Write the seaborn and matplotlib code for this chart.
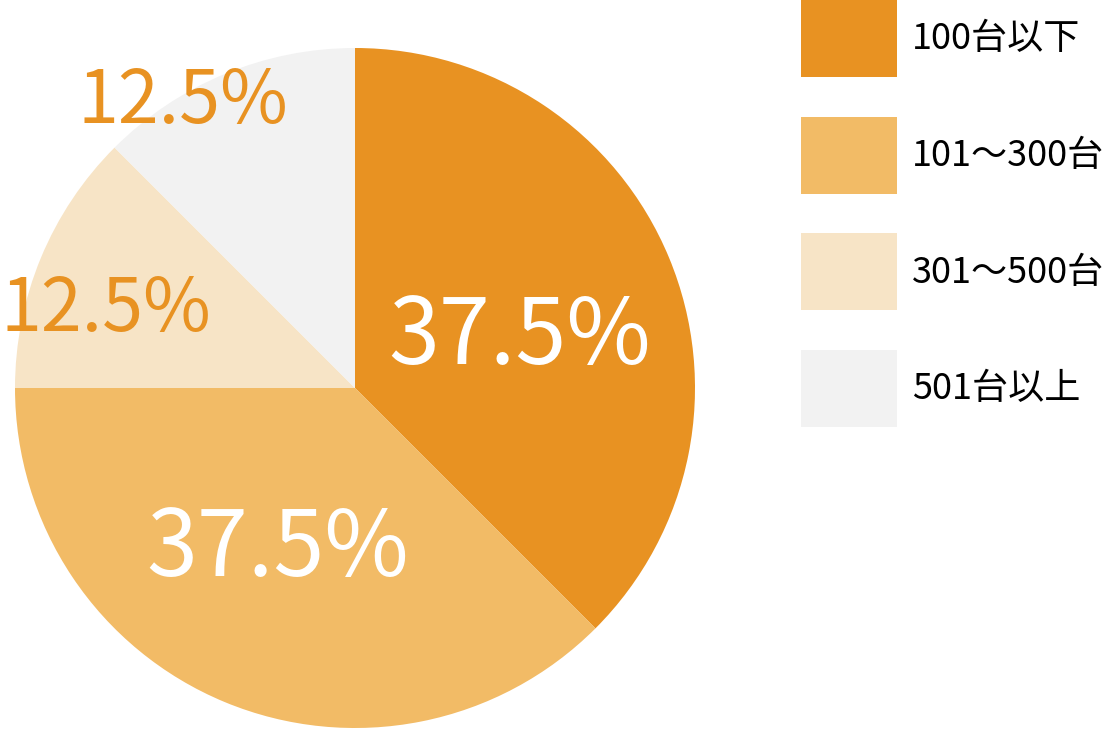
import matplotlib
matplotlib.use("Agg")
import matplotlib.pyplot as plt
import seaborn as sns
import numpy as np

categories = ["100台以下", "101～300台", "301～500台", "501台以上"]
values = [37.5, 37.5, 12.5, 12.5]
colors = ["#E89222", "#F2BB66", "#F7E4C6", "#F2F2F2"]
label_colors = ["white", "white", "#E89222", "#E89222"]

sns.set_theme(style="white")
plt.rcParams["font.family"] = ["Noto Sans CJK JP", "DejaVu Sans"]

W, H = 1105, 730
fig = plt.figure(figsize=(W / 100, H / 100), dpi=100)
fig.patch.set_facecolor("white")

cx, cy, r = 355, 388, 340
ax = fig.add_axes([(cx - r) / W, (H - cy - r) / H, 2 * r / W, 2 * r / H])
ax.set_facecolor("none")

wedges, texts, autotexts = ax.pie(
    values, colors=colors, startangle=90, counterclock=False,
    autopct=lambda p: f"{p:.1f}%", pctdistance=0.5,
    wedgeprops=dict(linewidth=0), radius=1.0,
)
ax.set_xlim(-1, 1)
ax.set_ylim(-1, 1)
ax.set_aspect("equal")

# label placement (polar: radius, angle in degrees) and sizes
label_pos = [(0.515, 20.3), (0.50, -116.9), (0.775, 160.8), (1.003, 120.4)]
label_sizes = [66, 66, 53, 53]
for t, (rr, ang), c, s in zip(autotexts, label_pos, label_colors, label_sizes):
    a = np.deg2rad(ang)
    t.set_position((rr * np.cos(a), rr * np.sin(a)))
    t.set_color(c)
    t.set_fontsize(s)
    t.set_ha("center")
    t.set_va("center_baseline")

fs = 26
px = fs * 100 / 72
fig.legend(
    wedges, categories, loc="upper left",
    bbox_to_anchor=(801 / W, 1.0), bbox_transform=fig.transFigure,
    frameon=False, fontsize=fs, borderpad=0, borderaxespad=0,
    handlelength=96 / px, handleheight=2.904,
    labelspacing=39.7 / px, handletextpad=15 / px,
    labelcolor="black",
)

fig.savefig("out.png", dpi=100, facecolor="white")
